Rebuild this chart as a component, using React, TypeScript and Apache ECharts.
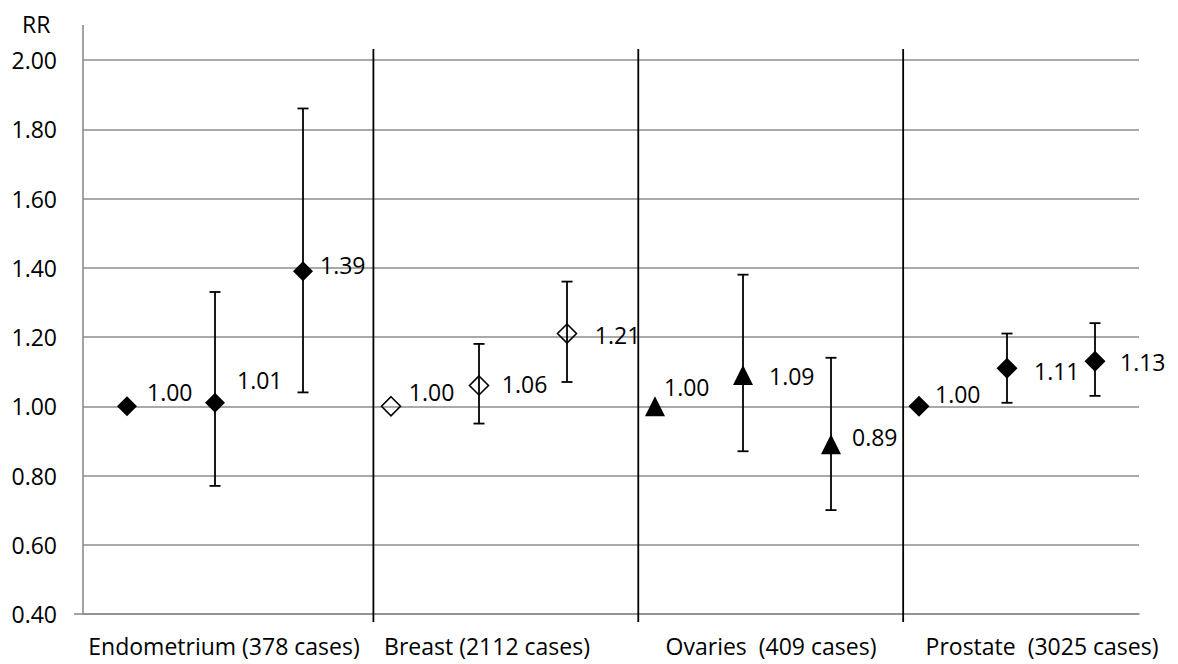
import React, { useEffect, useRef } from "react";
import * as echarts from "echarts";

// Cancer sites, one group of three exposure levels each
const groupNames = [
  "Endometrium (378 cases)",
  "Breast (2112 cases)",
  "Ovaries  (409 cases)",
  "Prostate  (3025 cases)",
];
const levelsPerGroup = 3;

// Relative risk per exposure level (reference level = 1.00)
const rrValues = [1.0, 1.01, 1.39, 1.0, 1.06, 1.21, 1.0, 1.09, 0.89, 1.0, 1.11, 1.13];
// 95% confidence limits (none for the reference levels)
const ciLow = [null, 0.77, 1.04, null, 0.95, 1.07, null, 0.87, 0.7, null, 1.01, 1.03];
const ciHigh = [null, 1.33, 1.86, null, 1.18, 1.36, null, 1.38, 1.14, null, 1.21, 1.24];

// Y axis
const yMin = 0.4;
const yMax = 2.0;
const yStep = 0.2;

// Group separators, in category-band units from the left edge
const separatorPositions = [3.3, 6.31, 9.32];

// Marker style per group
const groupMarkers = [
  { symbol: "diamond", size: 20, fill: "#000000" },
  { symbol: "diamond", size: 19, fill: "transparent" },
  { symbol: "triangle", size: 20, fill: "#000000" },
  { symbol: "diamond", size: 21, fill: "#000000" },
];

// Value label placement: [gap right of marker centre, vertical shift]
const labelPlacement = [
  [20, -14], [22, -23], [17, -6],
  [17, -14], [22, -1], [27, 1],
  [9, -19], [26, 1], [21, -7],
  [16, -12], [27, 3], [25, 1],
];

// Horizontal nudge of each group caption
const captionShift = [9, 8, 28, 35];

const FONT = "'Open Sans', 'Noto Sans', sans-serif";
const FONT_SIZE = 23;
const GRID_GRAY = "#8c8c8c";

export default function App() {
  const ref = useRef<HTMLDivElement>(null);

  useEffect(() => {
    if (!ref.current) return;
    const chart = echarts.init(ref.current, null, { renderer: "svg" });

    const categories = rrValues.map((_, i) => `c${i}`);

    const pointData = rrValues.map((v, i) => {
      const g = Math.floor(i / levelsPerGroup);
      const m = groupMarkers[g];
      const [gap, dy] = labelPlacement[i];
      return {
        value: [i, v],
        symbol: m.symbol,
        symbolSize: m.size,
        itemStyle: {
          color: m.fill,
          opacity: 1,
          borderColor: "#000",
          borderWidth: m.fill === "transparent" ? 1.6 : 0,
        },
        label: { offset: [gap - m.size / 2, dy] },
      };
    });

    const errorData: number[][] = [];
    rrValues.forEach((_, i) => {
      if (ciLow[i] != null && ciHigh[i] != null) {
        errorData.push([i, ciLow[i] as number, ciHigh[i] as number]);
      }
    });

    const rich: Record<string, any> = {};
    captionShift.forEach((s, k) => {
      rich[`g${k}`] = {
        fontSize: FONT_SIZE,
        fontFamily: FONT,
        color: "#000",
        padding: [0, 0, 0, s * 2],
      };
    });

    chart.setOption({
      animation: false,
      backgroundColor: "#ffffff",
      title: {
        text: "RR",
        left: 17,
        top: 7,
        textStyle: { fontSize: FONT_SIZE, fontWeight: "normal", fontFamily: FONT, color: "#000" },
      },
      grid: { left: 83, right: 39, top: 60, bottom: 50 },
      xAxis: [
        {
          type: "category",
          data: categories,
          boundaryGap: true,
          axisLine: { show: true, lineStyle: { color: GRID_GRAY, width: 1.6 } },
          axisTick: { show: false },
          splitLine: { show: false },
          axisLabel: {
            interval: 0,
            margin: 20,
            color: "#000",
            fontSize: FONT_SIZE,
            fontFamily: FONT,
            formatter: (_v: string, idx: number) => {
              if (idx % levelsPerGroup !== 1) return "";
              const g = Math.floor(idx / levelsPerGroup);
              return `{g${g}|${groupNames[g]}}`;
            },
            rich,
          },
        },
        {
          type: "value",
          min: 0,
          max: rrValues.length,
          show: false,
        },
      ],
      yAxis: {
        type: "value",
        min: yMin,
        max: yMax,
        interval: yStep,
        axisLine: { show: true, lineStyle: { color: GRID_GRAY, width: 1.6 } },
        axisTick: { show: false },
        splitLine: { show: true, lineStyle: { color: GRID_GRAY, width: 1.6 } },
        axisLabel: {
          color: "#000",
          fontSize: FONT_SIZE,
          fontFamily: FONT,
          margin: 26,
          formatter: (v: number) => v.toFixed(2),
        },
      },
      series: [
        {
          // Axis extensions: y axis above the top gridline, baseline left of the y axis
          type: "custom",
          xAxisIndex: 1,
          yAxisIndex: 0,
          clip: false,
          silent: true,
          data: [[0]],
          renderItem: (_p: any, api: any) => {
            const top = api.coord([0, yMax]);
            const bottom = api.coord([0, yMin]);
            return {
              type: "group",
              children: [
                {
                  type: "line",
                  shape: { x1: top[0], y1: top[1] - 35, x2: top[0], y2: top[1] },
                  style: { stroke: GRID_GRAY, lineWidth: 1.6 },
                },
                {
                  type: "line",
                  shape: { x1: bottom[0] - 9, y1: bottom[1], x2: bottom[0], y2: bottom[1] },
                  style: { stroke: GRID_GRAY, lineWidth: 1.6 },
                },
              ],
            };
          },
        },
        {
          // Vertical separators between cancer sites
          type: "custom",
          xAxisIndex: 1,
          yAxisIndex: 0,
          clip: false,
          silent: true,
          data: separatorPositions.map((p) => [p]),
          renderItem: (_p: any, api: any) => {
            const x = api.value(0);
            const top = api.coord([x, yMax]);
            const bottom = api.coord([x, yMin]);
            return {
              type: "line",
              shape: { x1: top[0], y1: top[1] - 11, x2: bottom[0], y2: bottom[1] + 8 },
              style: { stroke: "#000", lineWidth: 1.8 },
            };
          },
        },
        {
          // 95% confidence intervals
          type: "custom",
          xAxisIndex: 0,
          yAxisIndex: 0,
          silent: true,
          data: errorData,
          z: 3,
          renderItem: (_p: any, api: any) => {
            const i = api.value(0);
            const lo = api.coord([i, api.value(1)]);
            const hi = api.coord([i, api.value(2)]);
            const cap = 5.5;
            const style = { stroke: "#000", lineWidth: 1.8 };
            return {
              type: "group",
              children: [
                { type: "line", shape: { x1: lo[0], y1: lo[1], x2: hi[0], y2: hi[1] }, style },
                { type: "line", shape: { x1: hi[0] - cap, y1: hi[1], x2: hi[0] + cap, y2: hi[1] }, style },
                { type: "line", shape: { x1: lo[0] - cap, y1: lo[1], x2: lo[0] + cap, y2: lo[1] }, style },
              ],
            };
          },
        },
        {
          // Relative risk point estimates
          type: "scatter",
          xAxisIndex: 0,
          yAxisIndex: 0,
          z: 4,
          data: pointData,
          label: {
            show: true,
            position: "right",
            distance: 0,
            color: "#000",
            fontSize: FONT_SIZE,
            fontFamily: FONT,
            formatter: (p: any) => Number(p.value[1]).toFixed(2),
          },
        },
      ],
    });

    return () => chart.dispose();
  }, []);

  return (
    <div
      ref={ref}
      style={{ position: "fixed", left: 0, top: 0, width: 1178, height: 664, background: "#fff" }}
    />
  );
}
